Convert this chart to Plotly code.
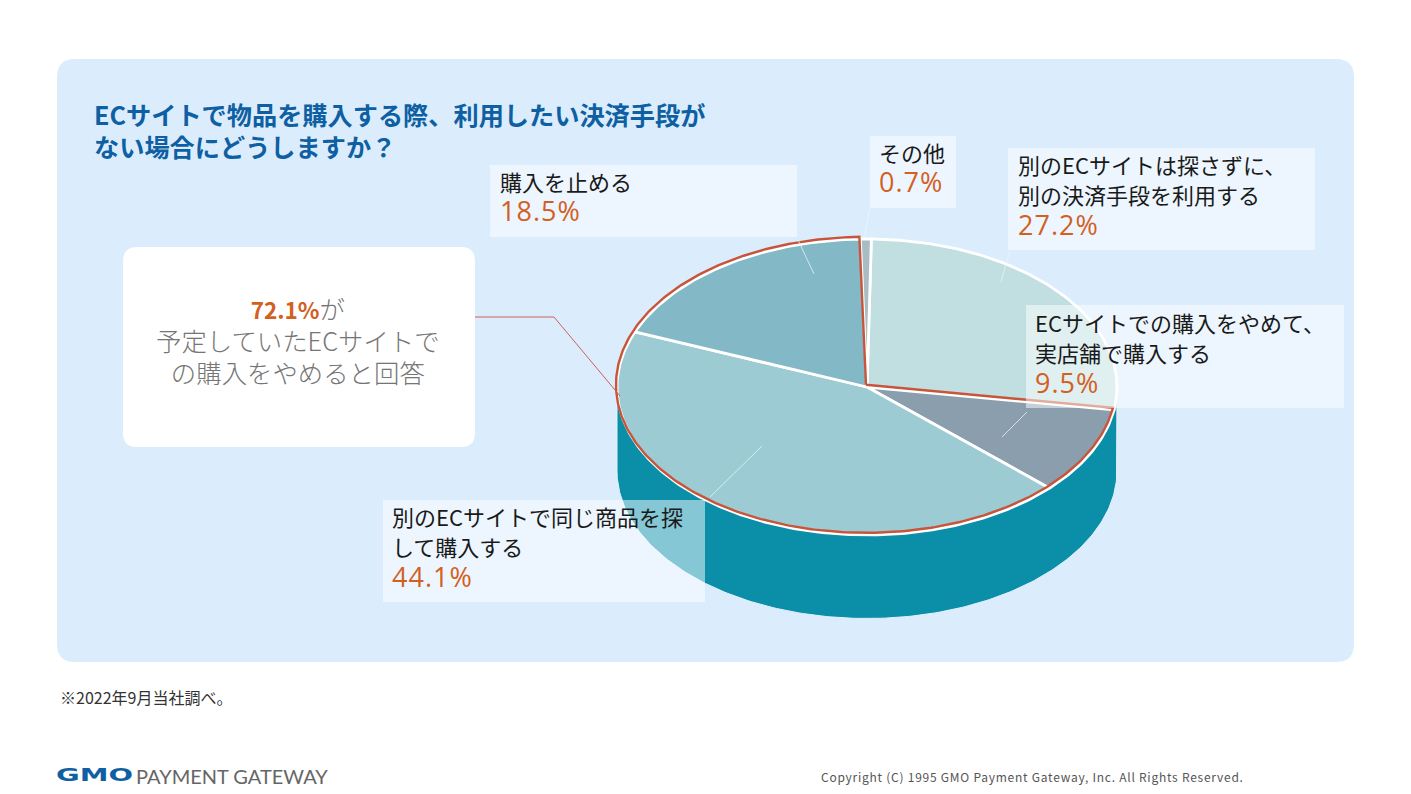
import numpy as np
import plotly.graph_objects as go

# ---- data ----
categories = ["別のECサイトは探さずに、別の決済手段を利用する",
              "ECサイトでの購入をやめて、実店舗で購入する",
              "別のECサイトで同じ商品を探して購入する",
              "購入を止める",
              "その他"]
shares = [27.2, 9.5, 44.1, 18.5, 0.7]
slice_colors = ["#C1DEE0", "#8A9EAE", "#9CCBD3", "#83B8C6", "#A9BCC4"]
label_lines = [["別のECサイトは探さずに、", "別の決済手段を利用する"],
               ["ECサイトでの購入をやめて、", "実店舗で購入する"],
               ["別のECサイトで同じ商品を探", "して購入する"],
               ["購入を止める"],
               ["その他"]]
label_x = [1016, 1033, 390, 498, 877]
label_y = [195, 353, 547, 197, 168]
label_boxes = [(1008, 148, 1315, 250), (1026, 305, 1344, 408), (383, 500, 705, 602),
               (490, 165, 797, 237), (870, 136, 956, 208)]
leaders = [((1010, 250), (1001, 282)), ((1027, 412), (1002, 437)), ((710, 497), (762, 446)),
           ((798, 240), (814, 274)), ((870, 208), (864, 238))]
highlight_share = 72.1

# ---- geometry of the tilted pie ----
CX, CY, RX, RY, DEPTH, START = 867, 387, 250, 148, 83.5, 1.0
FONT = "Noto Sans CJK JP"
ORANGE = "#D2601F"
RED = "#C8553A"


def pt(deg, k=1.0, dy=0.0):
    t = np.radians(deg)
    return CX + k * RX * np.sin(t), CY - k * RY * np.cos(t) + dy


fig = go.Figure()

# side wall
a = np.linspace(90, 270, 200)
xb, yb = pt(a, dy=DEPTH)
xt, yt = pt(a[::-1])
fig.add_trace(go.Scatter(x=np.r_[xt[-1], xb, xt], y=np.r_[yt[-1], yb, yt], mode="lines", fill="toself",
                         fillcolor="#0B8FA8", line=dict(color="#E3F1FC", width=1),
                         hoverinfo="skip", showlegend=False))

# slices
edges = START + np.r_[0, np.cumsum(shares)] * 3.6
for i, (name, col) in enumerate(zip(categories, slice_colors)):
    a = np.linspace(edges[i], edges[i + 1], max(3, int(shares[i] * 4)))
    x, y = pt(a)
    fig.add_trace(go.Scatter(x=np.r_[CX, x, CX], y=np.r_[CY, y, CY], mode="lines", fill="toself",
                             fillcolor=col, line=dict(color="white", width=2.8),
                             name=name, hoverinfo="name", showlegend=False))

# red outline round the three "stop buying here" slices, nudged up-left of the white edge
a = np.linspace(edges[1], edges[4], 300)
x, y = pt(a)
fig.add_trace(go.Scatter(x=np.r_[CX, x, CX] - 1, y=np.r_[CY, y, CY] - 2.2, mode="lines",
                         line=dict(color=RED, width=2.4), hoverinfo="skip", showlegend=False))

# leader lines
for (p0, p1) in leaders:
    fig.add_shape(type="line", x0=p0[0], y0=p0[1], x1=p1[0], y1=p1[1], layer="above",
                  line=dict(color="rgba(235,245,250,0.75)", width=1))
fig.add_shape(type="path", path="M475,317 L554,317 L620,396", layer="above",
              line=dict(color="#D0605A", width=1))


def rrect(x0, y0, x1, y1, r):
    return (f"M{x0+r},{y0} L{x1-r},{y0} Q{x1},{y0} {x1},{y0+r} L{x1},{y1-r} Q{x1},{y1} {x1-r},{y1} "
            f"L{x0+r},{y1} Q{x0},{y1} {x0},{y1-r} L{x0},{y0+r} Q{x0},{y0} {x0+r},{y0} Z")


fig.add_shape(type="path", path=rrect(57, 59, 1354, 662, 18), layer="below",
              fillcolor="#DBEDFD", line=dict(width=0))
fig.add_shape(type="path", path=rrect(123, 247, 475, 447, 14), layer="below",
              fillcolor="white", line=dict(width=0))
for b in label_boxes:
    fig.add_shape(type="rect", x0=b[0], y0=b[1], x1=b[2], y1=b[3], layer="above",
                  fillcolor="rgba(255,255,255,0.5)", line=dict(width=0))


def note(x, y, text, size, color, anchor="left", family=FONT, weight=None, align="left"):
    fig.add_annotation(x=x, y=y, text=text, showarrow=False, xanchor=anchor, yanchor="middle", align=align,
                       font=dict(family=family, size=size, color=color, weight=weight))


def sized(text, px):
    return f'<span style="font-size:{px}px">{text}</span>'


# pie labels: one text block each; the block's font size sets the line pitch
for lines, lx, ly, share in zip(label_lines, label_x, label_y, shares):
    rows = [sized(t, 22) for t in lines]
    rows.append(f'<span style="font-family:Open Sans;font-size:27px;letter-spacing:1px;color:{ORANGE}">{share:.1f}%</span>')
    note(lx, ly, "<br>".join(rows), 23.4, "#1A1A1A")

# title
note(92, 130, "<br>".join(sized(f"<b>{t}</b>", 25.2) for t in
                          ["ECサイトで物品を購入する際、利用したい決済手段が", "ない場合にどうしますか？"]),
     24.6, "#0F5FA3")

# callout
note(298, 340, f'<b><span style="color:{ORANGE};font-size:22.5px">{highlight_share}%</span></b>'
     + sized("が", 25.4) + "<br>" + sized("予定していたECサイトで", 25.4) + "<br>" + sized("の購入をやめると回答", 25.4),
     24.6, "#757575", "center", weight=300, align="center")

# footer
note(58, 697, "※2022年9月当社調べ。", 16, "#333333")
note(54, 775, "<b>GMO</b>", 17, "#0F5FA3", family="DejaVu Sans")
note(134, 775.5, "PAYMENT GATEWAY", 20, "#666666", family="Lato")
note(819, 776.5, '<span style="letter-spacing:0.75px">Copyright (C) 1995 GMO Payment Gateway, Inc. All Rights Reserved.</span>',
     12, "#555555")

fig.update_xaxes(range=[0, 1411], visible=False, fixedrange=True)
fig.update_yaxes(range=[794, 0], visible=False, fixedrange=True)
fig.update_layout(width=1411, height=794, margin=dict(l=0, r=0, t=0, b=0),
                  paper_bgcolor="white", plot_bgcolor="white", showlegend=False)

# the logo wordmark is much wider than any installed bold face: stretch the text horizontally
post = """
document.body.style.margin='0';document.body.style.overflow='hidden';
function stretchLogo(){
  document.querySelectorAll('text.annotation-text').forEach(function(t){
    if(t.textContent==='GMO'){
      var b=t.getBBox();
      t.setAttribute('transform','translate('+b.x+',0) scale(1.7,1) translate('+(-b.x)+',0)');
    }
  });
}
stretchLogo();setTimeout(stretchLogo,200);
"""
fig.write_html("out.html", config={"displayModeBar": False}, post_script=post)
